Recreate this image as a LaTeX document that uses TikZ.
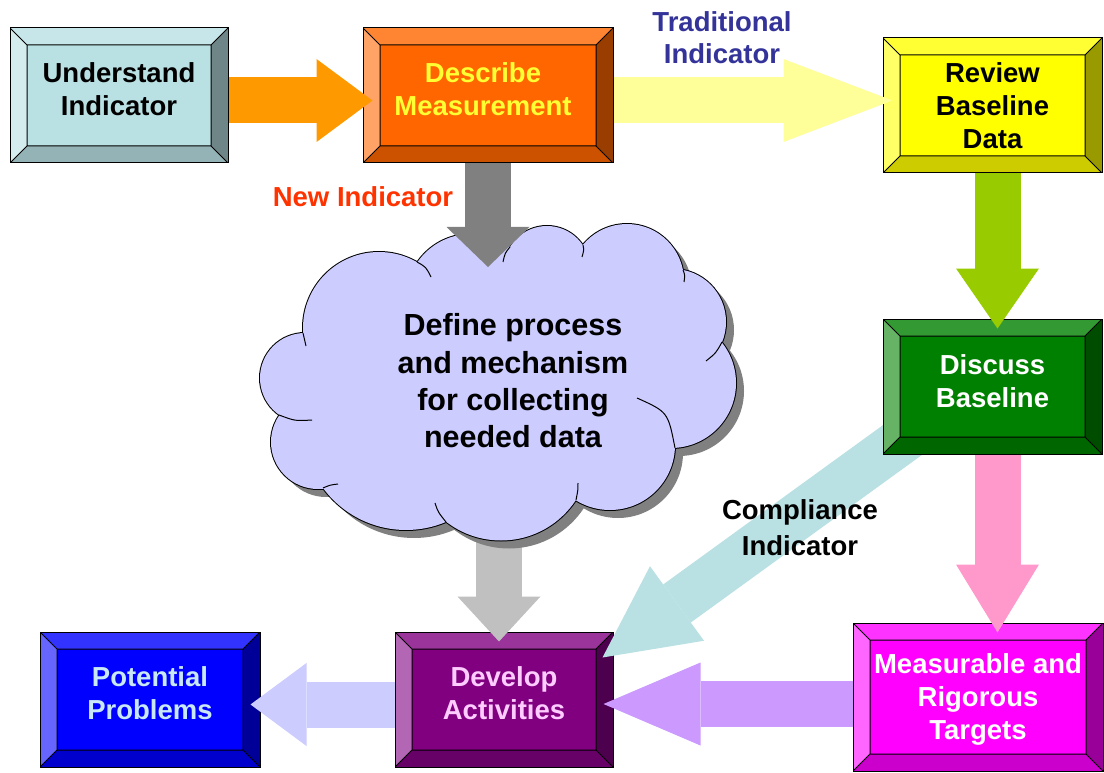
\documentclass[tikz,border=0pt]{standalone}
\usepackage{fontspec}
\setmainfont{Liberation Sans}
\usetikzlibrary{arrows.meta}
\pgfdeclarelayer{back}
\pgfsetlayers{back,main}

\definecolor{uiface}{HTML}{B9E0E3}
\definecolor{dmface}{HTML}{FF6600}
\definecolor{rbface}{HTML}{FFFF00}
\definecolor{dbface}{HTML}{008000}
\definecolor{mtface}{HTML}{FF00FF}
\definecolor{daface}{HTML}{800080}
\definecolor{ppface}{HTML}{0000FF}
\definecolor{dmtext}{HTML}{FFFF33}
\definecolor{datext}{HTML}{FFCCFF}
\definecolor{pptext}{HTML}{C8E8F8}
\definecolor{tradblue}{HTML}{333399}
\definecolor{newred}{HTML}{FF3300}
\definecolor{arrorange}{HTML}{FF9900}
\definecolor{arryellow}{HTML}{FFFF99}
\definecolor{arrgray}{HTML}{808080}
\definecolor{arrgreen}{HTML}{99CC00}
\definecolor{arrpink}{HTML}{FF99CC}
\definecolor{arrcyan}{HTML}{B9E0E3}
\definecolor{arrsilver}{HTML}{C0C0C0}
\definecolor{arrviolet}{HTML}{CC99FF}
\definecolor{arrlav}{HTML}{CCCCFF}
\definecolor{cloudfill}{HTML}{CCCCFF}

\newcommand{\boxfont}{\fontsize{27.5}{33}\selectfont\bfseries}
\newcommand{\cloudfont}{\fontsize{30.5}{37.3}\selectfont\bfseries}

\tikzset{
  bevel/.style={draw=black, line width=1pt, fill=#1, inner sep=0pt,
    path picture={
      \coordinate (nw) at (path picture bounding box.north west);
      \coordinate (ne) at (path picture bounding box.north east);
      \coordinate (se) at (path picture bounding box.south east);
      \coordinate (sw) at (path picture bounding box.south west);
      \coordinate (inw) at ([shift={(17,17)}]nw);
      \coordinate (ine) at ([shift={(-17,17)}]ne);
      \coordinate (ise) at ([shift={(-17,-17)}]se);
      \coordinate (isw) at ([shift={(17,-17)}]sw);
      \fill[#1!80!white] (nw) -- (ne) -- (ine) -- (inw) -- cycle;
      \fill[#1!60!white] (nw) -- (inw) -- (isw) -- (sw) -- cycle;
      \fill[#1!60!black] (ne) -- (se) -- (ise) -- (ine) -- cycle;
      \fill[#1!80!black] (sw) -- (isw) -- (ise) -- (se) -- cycle;
      \draw[line width=1pt] (inw) rectangle (ise) (nw) -- (inw) (ne) -- (ine) (se) -- (ise) (sw) -- (isw);
    }},
  boxtext/.style={align=center, font=\boxfont, inner sep=0pt},
  fat/.style n args={3}{draw=#1, line width=46pt, shorten >=-10pt,
    -{Triangle[length=#2, width=#3, line width=0pt]}},
}

% puffs of the cloud: centre x / centre y / radius
\def\puffs{379/328/76, 471/299/65, 547/269/43, 627/281/57, 673/322/53, 671/383/65,
  610/445/65, 501/451/89.5, 406/427/103, 318/442/47, 305/378/45}
\def\cloudcore{(303,333) -- (417,262) -- (510,247) -- (583,245) -- (683,270) -- (722,342)
  -- (675,448) -- (576,500) -- (446,522) -- (323,488) -- (279,415) -- cycle}

\begin{document}
\begin{tikzpicture}[x=1pt, y=-1pt]
\useasboundingbox (0,0) rectangle (1104,773);

\begin{pgfonlayer}{back}
\fill[white] (0,0) rectangle (1104,773);
\node[bevel=daface, minimum width=218pt, minimum height=135pt,
  label={[boxtext, name=dat, text=datext, yshift=6pt]center:Develop\\Activities}] (da) at (504,699.5) {};
\end{pgfonlayer}

% boxes
\node[bevel=ppface, minimum width=220pt, minimum height=135pt,
  label={[boxtext, name=ppt, text=pptext, yshift=6pt]center:Potential\\Problems}] (pp) at (150,699.5) {};
\node[bevel=uiface, minimum width=218pt, minimum height=135pt,
  label={[boxtext, name=uit, text=black, yshift=6pt]center:Understand\\Indicator}] (ui) at (119,95.5) {};
\node[bevel=dmface, minimum width=250pt, minimum height=135pt,
  label={[boxtext, name=dmt, text=dmtext, yshift=6pt, xshift=-5pt]center:Describe\\Measurement}] (dm) at (488,95.5) {};
\node[bevel=rbface, minimum width=219pt, minimum height=135pt,
  label={[boxtext, name=rbt, text=black]center:Review\\Baseline\\Data}] (rb) at (992.5,105.5) {};
\node[bevel=dbface, minimum width=219pt, minimum height=135pt,
  label={[boxtext, name=dbt, text=white, yshift=5pt]center:Discuss\\Baseline}] (db) at (992.5,386.5) {};
\node[bevel=mtface, minimum width=250pt, minimum height=148pt,
  label={[boxtext, name=mtt, text=white, yshift=-2pt]center:Measurable and\\Rigorous\\Targets}] (mt) at (978,697) {};

\coordinate (cltop) at (488,267);
\coordinate (clbot) at (499,520);
\draw[fat={arrsilver}{45pt}{83pt}] (clbot) -- ([xshift=-5pt]da.north);

% cloud: shadow, outline, body
\foreach \cx/\cy/\r in \puffs
  \fill[arrgray] (\cx+8,\cy+8) circle[radius=\r];
\fill[arrgray, shift={(8,8)}] \cloudcore;
\foreach \cx/\cy/\r in \puffs
  \draw[line width=2pt] (\cx,\cy) circle[radius=\r];
\foreach \cx/\cy/\r in \puffs
  \fill[cloudfill] (\cx,\cy) circle[radius=\r];
\fill[cloudfill] \cloudcore;
\draw[line width=1pt]
  (303,333) .. controls (304,339) .. (306,346)
  (417,262) .. controls (426,267) .. (431,277)
  (510,247) .. controls (505,253) .. (503,262)
  (583,245) .. controls (584,250) .. (582,257)
  (683,270) .. controls (685,275) .. (684,282)
  (722,342) .. controls (716,353) .. (706,361)
  (675,448) .. controls (668,412) .. (637,398)
  (576,500) .. controls (578,490) .. (578,483)
  (446,522) .. controls (438,512) .. (435,503)
  (323,488) .. controls (330,485) .. (338,484)
  (279,415) .. controls (295,421) .. (312,420);
\node[font=\cloudfont, align=center, inner sep=0pt] (cl) at (513,381)
  {Define process\\and mechanism\\for collecting\\needed data};

% block arrows
\draw[fat={arrorange}{56pt}{83pt}] ([yshift=-5pt]ui.east) -- ([yshift=-5pt]dm.west);
\draw[fat={arryellow}{109pt}{83pt}] ([yshift=-5pt]dm.east) -- ([yshift=5pt]rb.west);
\draw[fat={arrgray}{40pt}{83pt}, shorten >=0pt] (dm.south) -- (cltop);
\draw[fat={arrgreen}{60pt}{83pt}] ([xshift=5pt]rb.south) -- ([xshift=5pt]db.north);
\draw[fat={arrpink}{68pt}{83pt}] ([xshift=5pt]db.south) -- ([xshift=5pt]db.south |- mt.north);
\draw[fat={arrviolet}{97pt}{83pt}] ([yshift=-7pt]mt.west) -- ([yshift=-4.5pt]da.east);
\draw[fat={arrlav}{56pt}{83pt}] ([yshift=-5pt]da.west) -- ([yshift=-5pt]pp.east);
\begin{pgfonlayer}{back}
\draw[fat={arrcyan}{92pt}{92pt}, line width=47pt, shorten <=-40pt, shorten >=0pt]
  (db.south west) -- ([xshift=-11pt,yshift=-26pt]da.north east);
\end{pgfonlayer}

% labels
\node[boxtext, text=tradblue, font=\fontsize{27.5}{32}\selectfont\bfseries] (trad) at (722,38) {Traditional\\Indicator};
\node[boxtext, text=newred] (newi) at (363,197) {New Indicator};
\node[boxtext, text=black, font=\fontsize{27.5}{36}\selectfont\bfseries] (comp) at (800,528) {Compliance\\Indicator};

\end{tikzpicture}
\end{document}
